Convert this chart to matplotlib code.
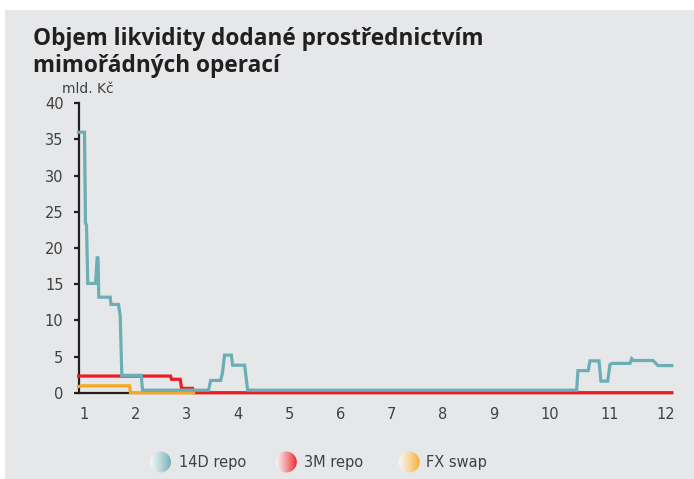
import matplotlib
matplotlib.use("Agg")
import matplotlib.pyplot as plt
import numpy as np
from matplotlib.patches import Rectangle, Circle

# ---------------- data ----------------
series_names = ["14D repo", "3M repo", "FX swap"]
series_colors = ["#6caeb6", "#ed1c24", "#f8a61c"]

x_14d = [0.889, 1.006, 1.025, 1.045, 1.070, 1.221, 1.254, 1.270, 1.285, 1.508,
         1.523, 1.670, 1.703, 1.734, 2.113, 2.139, 3.428, 3.467, 3.662, 3.695,
         3.740, 3.871, 3.896, 4.131, 4.189, 10.609, 10.635, 10.836, 10.869,
         11.045, 11.084, 11.215, 11.260, 11.300, 11.650, 11.684, 11.720,
         12.100, 12.198, 12.465]
y_14d = [36.0, 36.0, 23.4, 23.2, 15.1, 15.1, 18.8, 18.6, 13.2, 13.2,
         12.2, 12.2, 10.6, 2.4, 2.4, 0.35, 0.35, 1.7, 1.7, 2.6,
         5.2, 5.2, 3.8, 3.8, 0.35, 0.35, 3.05, 3.05, 4.4,
         4.4, 1.6, 1.6, 3.9, 4.05, 4.05, 4.7, 4.45,
         4.45, 3.75, 3.75]

x_3m = [0.889, 2.686, 2.705, 2.875, 2.900, 3.115, 3.135, 12.465]
y_3m = [2.3, 2.3, 1.85, 1.85, 0.6, 0.6, 0.0, 0.0]

x_fx = [0.889, 0.95, 1.885, 1.904, 3.135]
y_fx = [0.85, 0.95, 0.95, 0.0, 0.0]

x_tick_pos = [1, 2, 3, 4, 5, 6, 7, 8, 9, 10.08, 11.26, 12.34]
x_tick_labels = ["1", "2", "3", "4", "5", "6", "7", "8", "9", "10", "11", "12"]
y_ticks = [0, 5, 10, 15, 20, 25, 30, 35, 40]

title_lines = ["Objem likvidity dodané prostřednictvím", "mimořádných operací"]
unit_label = "mld. Kč"

# ---------------- figure ----------------
W, H = 694, 479
fig = plt.figure(figsize=(W / 100, H / 100), dpi=100, facecolor="white")
BG = "#e6e7e8"
fig.patches.append(Rectangle((5 / W, 0), 1 - 5 / W, 1 - 10 / H, transform=fig.transFigure,
                             facecolor=BG, edgecolor="none", zorder=-10))

tick_font = ["Liberation Sans Narrow", "DejaVu Sans"]
title_font = ["Open Sans", "DejaVu Sans"]
TXT = "#404041"

def fx(px):
    return px / W

def fy(py):
    return 1 - py / H

left, right = 78.5, 672
top, bottom = 103.3, 392.7
ax = fig.add_axes([fx(left), fy(bottom), fx(right) - fx(left), fy(top) - fy(bottom)])
ax.set_facecolor("none")

lw = 2.3
ax.plot(x_3m, y_3m, color=series_colors[1], lw=lw, clip_on=False, zorder=3,
        solid_joinstyle="miter")
ax.plot(x_fx, y_fx, color=series_colors[2], lw=lw, clip_on=False, zorder=4,
        solid_joinstyle="miter")
ax.plot(x_14d, y_14d, color=series_colors[0], lw=lw, clip_on=False, zorder=5,
        solid_joinstyle="miter")

ax.set_xlim(0.889, 12.47)
ax.set_ylim(0, 40)
for s in ["top", "right"]:
    ax.spines[s].set_visible(False)
for s in ["left", "bottom"]:
    ax.spines[s].set_color("#231f20")
    ax.spines[s].set_linewidth(1.6)
    ax.spines[s].set_zorder(2)

ax.set_yticks(y_ticks)
ax.set_yticklabels([str(v) for v in y_ticks], fontfamily=tick_font, fontsize=10.5,
                   color=TXT)
ax.tick_params(axis="y", direction="out", length=3.8, width=1.6, color="#231f20", pad=7)
ax.set_xticks(x_tick_pos)
ax.set_xticklabels(x_tick_labels, fontfamily=tick_font, fontsize=10.5, color=TXT)
ax.tick_params(axis="x", length=0, pad=10)

# titles
fig.text(fx(33), fy(45), title_lines[0], fontfamily=title_font, fontweight="bold",
         fontsize=16.3, color="#231f20", va="baseline", ha="left")
fig.text(fx(33), fy(71.5), title_lines[1], fontfamily=title_font, fontweight="bold",
         fontsize=16.3, color="#231f20", va="baseline", ha="left")
fig.text(fx(62.5), fy(93), unit_label, fontfamily=tick_font, fontsize=10,
         color=TXT, va="baseline", ha="left")

# legend with gradient circles
leg_cx = [160.5, 286.3, 409.2]
leg_tx = [179.3, 304, 425.7]
leg_cy = 462
r = 10.5
for name, col, cx, tx in zip(series_names, series_colors, leg_cx, leg_tx):
    lax = fig.add_axes([fx(cx - r - 1), fy(leg_cy + r + 1), (2 * r + 2) / W, (2 * r + 2) / H])
    lax.set_axis_off()
    c = np.array(matplotlib.colors.to_rgb(col))
    wcol = np.array([0.97, 0.97, 0.97])
    t = np.linspace(0, 1, 64) ** 1.2
    grad = wcol[None, :] * (1 - t[:, None]) + c[None, :] * t[:, None]
    img = np.tile(grad[None, :, :], (8, 1, 1))
    im = lax.imshow(img, extent=[0, 1, 0, 1], aspect="auto", interpolation="bilinear")
    circ = Circle((0.5, 0.5), r / (2 * r + 2), transform=lax.transAxes)
    im.set_clip_path(circ)
    lax.set_xlim(0, 1)
    lax.set_ylim(0, 1)
    fig.text(fx(tx), fy(leg_cy), name, fontfamily=tick_font, fontsize=10.5,
             color=TXT, va="center", ha="left")

fig.savefig("out.png", dpi=100, facecolor=fig.get_facecolor())
